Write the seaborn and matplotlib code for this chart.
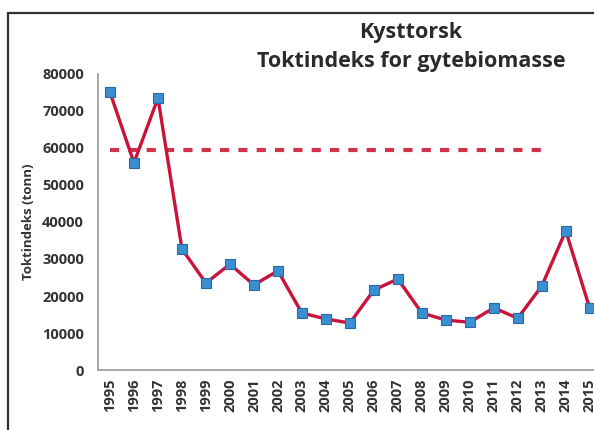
import pandas as pd
import matplotlib.pyplot as plt
import seaborn as sns
from matplotlib.patches import Rectangle
from matplotlib.ticker import FixedLocator

# Data
years = [str(y) for y in range(1995, 2016)]
index_tonn = [75000, 56000, 73500, 32700, 23500, 28600, 23000, 26800, 15400, 13800,
              12700, 21600, 24600, 15400, 13500, 12900, 16800, 14000, 22700, 37600, 16700]
ref_value = 59500
ref_start, ref_end = "1995", "2013"

df = pd.DataFrame({"year": years, "tonn": index_tonn})

sns.set_style("white")
plt.rcParams['font.family'] = ['Open Sans', 'DejaVu Sans']

fig = plt.figure(figsize=(5.94, 4.30), dpi=100)
ax = fig.add_axes([0.165, 0.1395, 0.848, 0.6885])

# chart area border (scanned Excel frame)
fig.patches.append(Rectangle((0.014, -0.05), 1.1, 1.02, transform=fig.transFigure,
                             fill=False, edgecolor='#333333', linewidth=1.6))

# reference line
i0, i1 = years.index(ref_start), years.index(ref_end)
ax.hlines(ref_value, i0, i1, colors='#d0344a', linestyles=(0, (2.2, 2.2)), linewidth=3, zorder=2)

sns.lineplot(data=df, x="year", y="tonn", ax=ax, sort=False, color='#c8143c', linewidth=2.4,
             marker='s', markersize=6.5, markerfacecolor='#3a8fd0', markeredgecolor='#2a6aa0',
             markeredgewidth=0.8, zorder=3)

ax.set_ylim(0, 80000)
ax.set_xlim(-0.5, len(years) - 0.5)
ax.set_yticks(range(0, 80001, 10000))
ax.set_xticks(range(len(years)))
ax.set_xticklabels(years, rotation=90, fontsize=10.5, fontweight='bold', color='#333333')
ax.xaxis.set_minor_locator(FixedLocator([i - 0.5 for i in range(len(years) + 1)]))
ax.tick_params(axis='x', which='major', length=0, pad=6)
ax.tick_params(axis='x', which='minor', length=4, color='#999999', width=1, direction='out')
ax.tick_params(axis='y', length=4, color='#999999', width=1, direction='out', pad=6,
               labelsize=10.5, labelcolor='#333333')
for lab in ax.get_yticklabels():
    lab.set_fontweight('bold')

for s in ['top', 'right']:
    ax.spines[s].set_visible(False)
for s in ['left', 'bottom']:
    ax.spines[s].set_color('#999999')
    ax.spines[s].set_linewidth(1.2)

ax.set_xlabel('')
ax.set_ylabel('Toktindeks (tonn)', fontsize=9.5, fontweight='bold', color='#333333', labelpad=5)

fig.text(0.692, 0.925, 'Kysttorsk', ha='center', va='center', fontsize=15.5,
         fontweight='bold', color='#2a2a2a')
fig.text(0.692, 0.857, 'Toktindeks for gytebiomasse', ha='center', va='center', fontsize=15.5,
         fontweight='bold', color='#2a2a2a')

fig.savefig('out.png', dpi=100)
